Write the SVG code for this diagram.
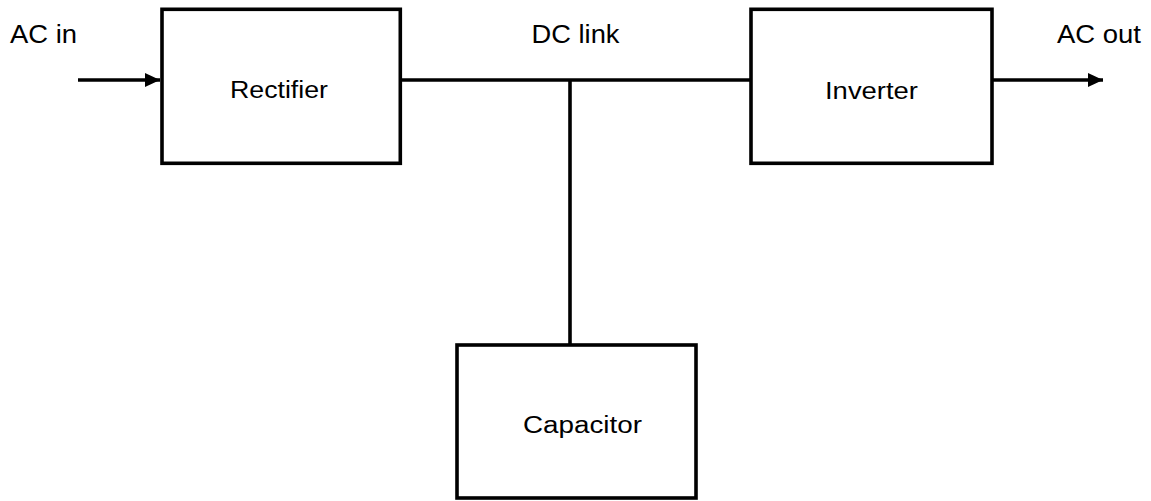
<svg xmlns="http://www.w3.org/2000/svg" width="1151" height="501" viewBox="0 0 1151 501">
<defs>
<style>
.box{fill:#fff;stroke:#000;stroke-width:3.6}
.w{stroke:#000;stroke-width:3.6;fill:none}
text{font-family:"Liberation Sans",Arial,sans-serif;fill:#000}
.lbl{font-size:25px}
.nt{font-size:23px}
</style>
<marker id="ah" markerWidth="15" markerHeight="14" refX="15" refY="7" orient="auto" markerUnits="userSpaceOnUse">
<path d="M0,0 L15,7 L0,14 Z" fill="#000"/>
</marker>
</defs>
<rect width="1151" height="501" fill="#fff"/>
<g id="connectors">
<line class="w" x1="78" y1="80" x2="160" y2="80" marker-end="url(#ah)"/>
<line class="w" x1="400" y1="80" x2="751" y2="80"/>
<line class="w" x1="570" y1="80" x2="570" y2="345"/>
<line class="w" x1="992" y1="80" x2="1103" y2="80" marker-end="url(#ah)"/>
</g>
<g id="rectifier"><rect class="box" x="162" y="9.3" width="238.3" height="154"/><text class="nt" x="230" y="98" textLength="98" lengthAdjust="spacingAndGlyphs">Rectifier</text></g>
<g id="inverter"><rect class="box" x="751" y="9.3" width="241" height="154"/><text class="nt" x="825" y="99" textLength="93" lengthAdjust="spacingAndGlyphs">Inverter</text></g>
<g id="capacitor"><rect class="box" x="457" y="345" width="239" height="153"/><text class="nt" x="523" y="433" textLength="119" lengthAdjust="spacingAndGlyphs">Capacitor</text></g>
<g id="labels">
<text class="lbl" x="10" y="43" textLength="67" lengthAdjust="spacingAndGlyphs">AC in</text>
<text class="lbl" x="531.5" y="43" textLength="88" lengthAdjust="spacingAndGlyphs">DC link</text>
<text class="lbl" x="1057" y="43" textLength="84" lengthAdjust="spacingAndGlyphs">AC out</text>
</g>
</svg>
